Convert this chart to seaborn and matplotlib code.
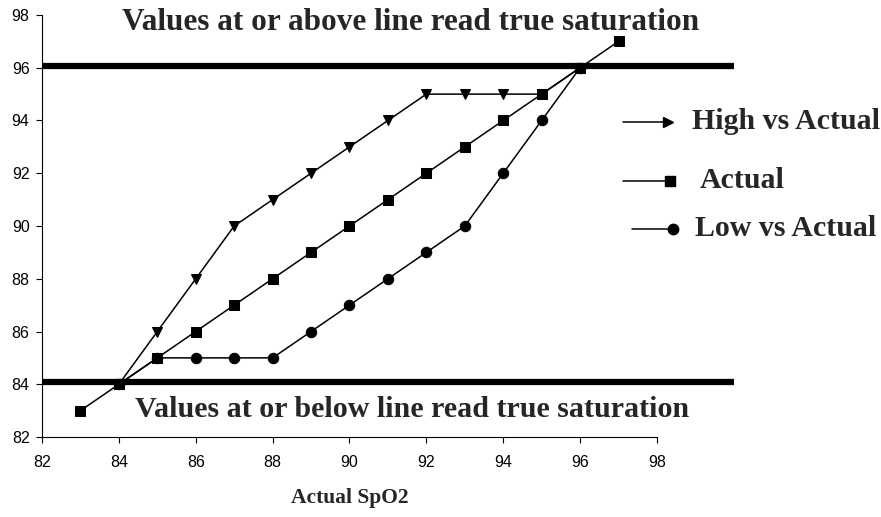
import pandas as pd
import numpy as np
import matplotlib
matplotlib.use("Agg")
import matplotlib.pyplot as plt
import seaborn as sns

# Dados
actual_x = [83, 84, 85, 86, 87, 88, 89, 90, 91, 92, 93, 94, 95, 96, 97]
actual_y = [83, 84, 85, 86, 87, 88, 89, 90, 91, 92, 93, 94, 95, 96, 97]
high_x = [84, 85, 86, 87, 88, 89, 90, 91, 92, 93, 94, 95, 96]
high_y = [84, 86, 88, 90, 91, 92, 93, 94, 95, 95, 95, 95, 96]
low_x = [84, 85, 86, 87, 88, 89, 90, 91, 92, 93, 94, 95, 96]
low_y = [84, 85, 85, 85, 85, 86, 87, 88, 89, 90, 92, 94, 96]
limit_levels = [96.07, 84.1]
x_ticks = [82, 84, 86, 88, 90, 92, 94, 96, 98]
y_ticks = [82, 84, 86, 88, 90, 92, 94, 96, 98]
legend_labels = ['High vs Actual', 'Actual', 'Low vs Actual']

sns.set_style("ticks")
plt.rcParams['font.family'] = ['Liberation Sans', 'DejaVu Sans']

fig = plt.figure(figsize=(8.81, 5.17), dpi=100)
ax = fig.add_axes([0.0477, 0.1547, 0.698, 0.8163])

sns.lineplot(x=high_x, y=high_y, ax=ax, color='black', lw=1.1,
             marker='v', markersize=7.5, markeredgecolor='black', zorder=3)
sns.lineplot(x=low_x, y=low_y, ax=ax, color='black', lw=1.1,
             marker='o', markersize=7.5, markeredgecolor='black', zorder=3)
sns.lineplot(x=actual_x, y=actual_y, ax=ax, color='black', lw=1.1,
             marker='s', markersize=7.5, markeredgecolor='black', zorder=4)

# Linhas grossas de limite (ultrapassam o eixo)
for lvl in limit_levels:
    ax.plot([82, 100], [lvl, lvl], color='black', lw=4.5, clip_on=False,
            solid_capstyle='butt', zorder=2)

ax.set_xlim(82, 98)
ax.set_ylim(82, 98)
ax.set_xticks(x_ticks)
ax.set_yticks(y_ticks)
ax.tick_params(labelsize=11.5, length=4, width=0.8, colors='black')
ax.tick_params(axis='x', pad=9)
ax.tick_params(axis='y', pad=5)
sns.despine(ax=ax)
for s in ['left', 'bottom']:
    ax.spines[s].set_linewidth(0.8)
    ax.spines[s].set_color('black')

serif = ['Liberation Serif', 'DejaVu Serif']
ax.text(84.08, 97.72, 'Values at or above line read true saturation',
        family=serif, fontweight='bold', fontsize=22.5, va='center', ha='left')
ax.text(84.42, 83.06, 'Values at or below line read true saturation',
        family=serif, fontweight='bold', fontsize=21.6, va='center', ha='left')
ax.set_xlabel('Actual SpO2', family=serif, fontweight='bold', fontsize=15.5, labelpad=13)
ax.set_ylabel('')

# Legenda desenhada à mão
rows = [(122, '>', 623, 668, 692), (181, 's', 623, 670, 700), (229, 'o', 632, 673, 695)]
for (py, mk, x0, x1, tx), lab in zip(rows, legend_labels):
    yy = 1 - py / 517
    fig.add_artist(plt.Line2D([x0 / 881, x1 / 881], [yy, yy], color='black', lw=1.1))
    fig.add_artist(plt.Line2D([x1 / 881], [yy], marker=mk, color='black', markersize=7.5))
    fig.text(tx / 881, yy, lab, family=serif, fontweight='bold', fontsize=21.5, va='center', ha='left')

fig.savefig('out.png', dpi=100)
